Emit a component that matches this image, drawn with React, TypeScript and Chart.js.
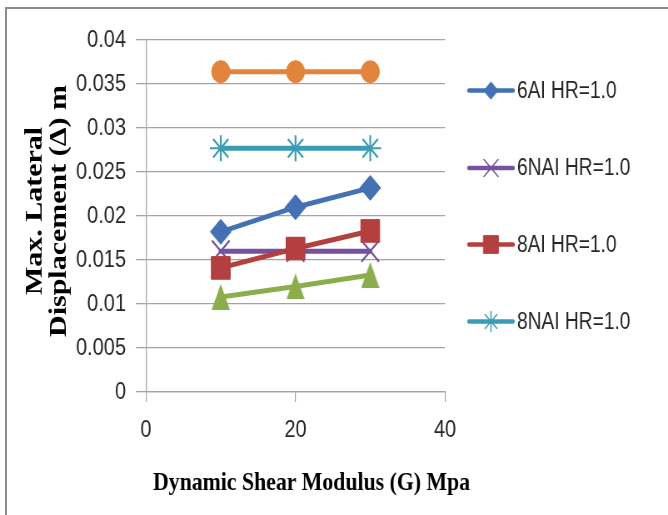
import React, { useEffect, useRef } from 'react';
import { Chart, registerables } from 'chart.js';
import { drawPoint } from 'chart.js/helpers';

Chart.register(...registerables);

// ---- data ----
const xValues = [10, 20, 30];
const series6AI = [0.0182, 0.021, 0.0232];
const series6NAI = [0.016, 0.016, 0.016];
const series8AI = [0.0141, 0.0163, 0.0183];
const series8NAI = [0.0277, 0.0277, 0.0277];
const seriesOrange = [0.0364, 0.0364, 0.0364];
const seriesGreen = [0.0108, 0.012, 0.0133];
const legendLabels = ['6AI HR=1.0', '6NAI HR=1.0', '8AI HR=1.0', '8NAI HR=1.0'];
const xTicks = [0, 20, 40];
const xTickLabels = ['0', '20', '40'];
const yTicks = [0, 0.005, 0.01, 0.015, 0.02, 0.025, 0.03, 0.035, 0.04];
const yTickLabels = ['0', '0.005', '0.01', '0.015', '0.02', '0.025', '0.03', '0.035', '0.04'];
const xTitle = 'Dynamic Shear Modulus (G) Mpa';
const yTitleLines = ['Max. Lateral', 'Displacement (\u0394) m'];

// ---- layout (css px); canvas is drawn wider and squeezed horizontally ----
const CSS_W = 668;
const CSS_H = 515;
const INT_W = 802;
const px = (x: number) => (x * INT_W) / CSS_W;

const SANS = '"Liberation Sans", Arial, sans-serif';
const SERIF = '"Liberation Serif", "Times New Roman", serif';
const GRID = '#a3a3a3';
const TEXT = '#262626';

function triangleImage(color: string, w: number, h: number) {
  const c = document.createElement('canvas');
  c.width = w;
  c.height = h;
  const g = c.getContext('2d')!;
  g.fillStyle = color;
  g.beginPath();
  g.moveTo(w / 2, 0);
  g.lineTo(w, h);
  g.lineTo(0, h);
  g.closePath();
  g.fill();
  return c;
}

const legendY = [90.5, 168, 244.5, 321.5];
const legendMarker = [
  { pointStyle: 'rectRot', radius: 8.5, borderWidth: 1 },
  { pointStyle: 'crossRot', radius: 12, borderWidth: 1.5 },
  { pointStyle: 'rect', radius: 12.5, borderWidth: 1 },
  { pointStyle: 'star', radius: 10, borderWidth: 1.5 },
];

const overlayPlugin = {
  id: 'overlay',
  afterDraw(chart: any) {
    const ctx = chart.ctx as CanvasRenderingContext2D;
    // x title
    ctx.save();
    ctx.font = `bold 26px ${SERIF}`;
    ctx.fillStyle = '#000';
    ctx.textAlign = 'center';
    ctx.textBaseline = 'alphabetic';
    const wx = ctx.measureText(xTitle).width;
    ctx.translate(px(311.5), 490);
    ctx.scale(px(317) / wx, 1);
    ctx.fillText(xTitle, 0, 0);
    ctx.restore();

    // y title (two lines)
    ctx.save();
    ctx.font = `bold 30px ${SERIF}`;
    ctx.fillStyle = '#000';
    ctx.textAlign = 'center';
    ctx.textBaseline = 'alphabetic';
    const w2 = ctx.measureText(yTitleLines[1]).width;
    const s = 252 / w2;
    const baseX = [42, 66];
    yTitleLines.forEach((line, i) => {
      ctx.save();
      ctx.translate(px(baseX[i]), 211);
      ctx.rotate(-Math.PI / 2);
      ctx.scale(s, 1);
      ctx.fillText(line, 0, 0);
      ctx.restore();
    });
    ctx.restore();

    // legend
    legendLabels.forEach((label, i) => {
      const ds = chart.data.datasets[i];
      const y = legendY[i];
      ctx.save();
      ctx.strokeStyle = ds.borderColor;
      ctx.lineWidth = 4.5;
      ctx.lineCap = 'round';
      ctx.beginPath();
      ctx.moveTo(px(469), y);
      ctx.lineTo(px(513), y);
      ctx.stroke();
      ctx.fillStyle = ds.borderColor;
      ctx.strokeStyle = ds.borderColor;
      const m = legendMarker[i];
      ctx.lineWidth = m.borderWidth;
      drawPoint(ctx, { pointStyle: m.pointStyle as any, rotation: 0, radius: m.radius, borderWidth: m.borderWidth }, px(491), y);
      ctx.fillStyle = TEXT;
      ctx.font = `23px ${SANS}`;
      ctx.textAlign = 'left';
      ctx.textBaseline = 'middle';
      ctx.fillText(label, px(517), y + 1);
      ctx.restore();
    });
  },
};

export default function App() {
  const ref = useRef<HTMLCanvasElement>(null);
  useEffect(() => {
    const canvas = ref.current!;
    const pts = (arr: number[]) => arr.map((y, i) => ({ x: xValues[i], y }));
    const mk = (label: string, data: number[], color: string, pointStyle: any, radius: number, bw: number) => ({
      label,
      data: pts(data),
      borderColor: color,
      backgroundColor: color,
      pointBackgroundColor: color,
      pointBorderColor: color,
      pointStyle,
      pointRadius: radius,
      pointBorderWidth: bw,
      borderWidth: 5,
      borderCapStyle: 'round',
      borderJoinStyle: 'round',
      tension: 0,
    });
    const datasets: any[] = [
      mk(legendLabels[0], series6AI, '#4371B4', 'rectRot', 12.5, 1),
      mk(legendLabels[1], series6NAI, '#7551A0', 'crossRot', 15, 2.2),
      mk(legendLabels[2], series8AI, '#B33F3F', 'rect', 16, 1),
      mk(legendLabels[3], series8NAI, '#3C9BB5', 'star', 13, 2.2),
      mk('', seriesOrange, '#E3843C', 'circle', 11, 1),
      mk('', seriesGreen, '#8BAE4C', triangleImage('#8BAE4C', 22, 26), 13, 1),
    ];
    datasets.forEach((d, i) => (d.order = datasets.length - i));

    const chart = new Chart(canvas, {
      type: 'line',
      data: { datasets },
      options: {
        animation: false,
        responsive: false,
        devicePixelRatio: 1,
        layout: { padding: { left: 0, top: 40, right: INT_W - px(445), bottom: 0 } },
        plugins: { legend: { display: false }, tooltip: { enabled: false }, title: { display: false } },
        scales: {
          x: {
            type: 'linear',
            min: 0,
            max: 40,
            afterBuildTicks: (s: any) => {
              s.ticks = xTicks.map((v) => ({ value: v }));
            },
            afterFit: (s: any) => {
              s.height = 123;
            },
            ticks: {
              font: { family: SANS, size: 24 },
              color: TEXT,
              padding: 14,
              maxRotation: 0,
              callback: (_v: any, i: number) => xTickLabels[i],
            },
            grid: { drawOnChartArea: false, drawTicks: true, tickLength: 10, color: GRID, lineWidth: 1.2 },
            border: { display: true, color: GRID, width: 1.3 },
          },
          y: {
            type: 'linear',
            min: 0,
            max: 0.04,
            afterBuildTicks: (s: any) => {
              s.ticks = yTicks.map((v) => ({ value: v }));
            },
            afterFit: (s: any) => {
              s.width = px(146);
            },
            ticks: {
              font: { family: SANS, size: 24 },
              color: TEXT,
              padding: 12,
              callback: (_v: any, i: number) => yTickLabels[i],
            },
            grid: { color: GRID, lineWidth: 1.3, tickLength: 12 },
            border: { display: true, color: GRID, width: 1.3 },
          },
        },
      },
      plugins: [overlayPlugin],
    });
    return () => chart.destroy();
  }, []);

  return (
    <div
      style={{
        position: 'fixed',
        left: 0,
        top: 0,
        width: CSS_W,
        height: CSS_H,
        background: '#fff',
        overflow: 'hidden',
      }}
    >
      <div
        style={{
          position: 'absolute',
          left: 5,
          top: 7,
          width: 720,
          height: 600,
          borderTop: '2px solid #8c8c8c',
          borderLeft: '2px solid #8c8c8c',
        }}
      />
      <canvas
        ref={ref}
        width={INT_W}
        height={CSS_H}
        style={{ position: 'absolute', left: 0, top: 0, width: CSS_W + 'px', height: CSS_H + 'px', display: 'block' }}
      />
    </div>
  );
}
